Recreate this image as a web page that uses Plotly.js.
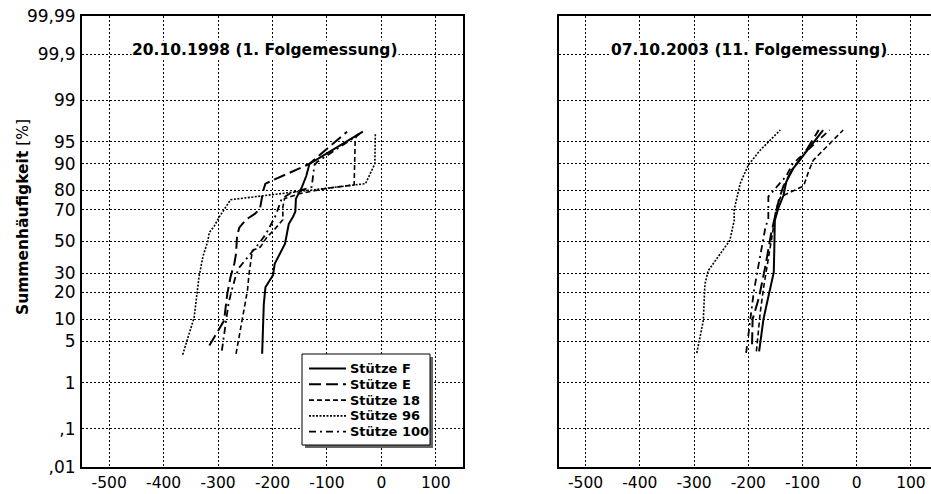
<!DOCTYPE html>
<html>
<head>
<meta charset="utf-8">
<script src="https://cdn.plot.ly/plotly-3.0.1.min.js"></script>
<style>html,body{margin:0;padding:0;background:#fff;}#chart{width:931px;height:494px;}</style>
</head>
<body>
<div id="chart"></div>
<script>
// ---------- data (x = value, p = cumulative frequency in %) ----------
const seriesNames = ["Stütze F", "Stütze E", "Stütze 18", "Stütze 96", "Stütze 100"];

// left panel: 20.10.1998 (1. Folgemessung)
const leftF_x   = [-219,-216,-213,-206,-199,-196,-186,-177,-172,-170,-162,-158,-157,-146,-138,-132,-34];
const leftF_p   = [3.2,15,22.5,26,29,35.6,42,48.5,58,61.5,66,69,76,81.5,86,90,96.5];
const leftE_x   = [-316,-289,-283,-277,-270,-267,-265,-261,-249,-232,-223,-217,-213,-164,-132,-63];
const leftE_p   = [4.3,9.6,19.5,28,36,42,54,59,64,67.7,70.6,80,83,87.4,90,96.5];
const left18_x  = [-267,-258,-252,-246,-243,-237,-222,-210,-196,-185,-181,-181,-178,-150,-100,-50,-48,-42];
const left18_p  = [3.2,7.8,14,21,30,44,46.5,53,58,62,64,71.5,76,78.5,81,82.5,95.5,96.3];
const left96_x  = [-365,-344,-335,-328,-319,-316,-307,-298,-277,-29,-12,-11];
const left96_p  = [3.1,10.5,28,40,50,56,60,65.6,75.5,83,90,96.3];
const left100_x = [-293,-285,-281,-276,-268,-262,-245,-232,-222,-212,-204,-195,-183,-165,-128,-123,-118,-40];
const left100_p = [3.6,10,15,20,28,33,40,45,50,55,60,66,76,79,81.5,89.6,90.5,96.2];

// right panel: 07.10.2003 (11. Folgemessung)
const rightF_x   = [-180,-172,-165,-160,-153,-152,-151,-145,-135,-130,-117,-98,-62];
const rightF_p   = [3.5,10,16,21,30.5,45,63.6,70.6,77.7,83.7,88.6,92.3,96.7];
const rightE_x   = [-193,-192,-180,-168,-158,-150,-143,-135,-120,-100,-70];
const rightE_p   = [4.5,10,18,35,55,68,76,82,88,92,96.7];
const right18_x  = [-185,-178,-172,-166,-160,-155,-150,-145,-140,-98,-88,-80,-25];
const right18_p  = [3.5,12,22,32,44,56,68,74,77,82,88,91,96.7];
const right96_x  = [-295,-283,-280,-274,-234,-226,-226,-221,-215,-200,-178,-141];
const right96_p  = [3.3,9.5,24,31.5,50.7,63.6,70,77,83,89.6,93.4,96.7];
const right100_x = [-204,-200,-195,-190,-185,-175,-168,-163,-163,-150,-130,-118,-50];
const right100_p = [3.3,6,12,20,28,46,60,64,77,81,86,90,96.7];

// axis ticks
const yTickPct   = [0.01,0.1,1,5,10,20,30,50,70,80,90,95,99,99.9,99.99];
const yTickText  = [",01",",1","1","5","10","20","30","50","70","80","90","95","99","99,9","99,99"];
const xTickVals  = [-500,-400,-300,-200,-100,0,100];
const xTickText  = ["-500","-400","-300","-200","-100","0","100"];
const titles     = ["20.10.1998 (1. Folgemessung)", "07.10.2003 (11. Folgemessung)"];
const yTitle     = "Summenhäufigkeit";

// ---------- normal probability scale (probit) ----------
function probit(p){
  const a=[-3.969683028665376e+01,2.209460984245205e+02,-2.759285104469687e+02,1.383577518672690e+02,-3.066479806614716e+01,2.506628277459239e+00];
  const b=[-5.447609879822406e+01,1.615858368580409e+02,-1.556989798598866e+02,6.680131188771972e+01,-1.328068155288572e+01];
  const c=[-7.784894002430293e-03,-3.223964580411365e-01,-2.400758277161838e+00,-2.549671010243277e+00,4.374664141464968e+00,2.938163982698783e+00];
  const d=[7.784695709041462e-03,3.224671290700398e-01,2.445134137142996e+00,3.754408661907416e+00];
  const pl=0.02425, ph=1-pl; let q,r;
  if(p<pl){q=Math.sqrt(-2*Math.log(p));return (((((c[0]*q+c[1])*q+c[2])*q+c[3])*q+c[4])*q+c[5])/((((d[0]*q+d[1])*q+d[2])*q+d[3])*q+1);}
  if(p<=ph){q=p-0.5;r=q*q;return (((((a[0]*r+a[1])*r+a[2])*r+a[3])*r+a[4])*r+a[5])*q/(((((b[0]*r+b[1])*r+b[2])*r+b[3])*r+b[4])*r+1);}
  q=Math.sqrt(-2*Math.log(1-p));return -(((((c[0]*q+c[1])*q+c[2])*q+c[3])*q+c[4])*q+c[5])/((((d[0]*q+d[1])*q+d[2])*q+d[3])*q+1);
}
const z = arr => arr.map(v => probit(v/100));

const styles = [
  {color:"#000", width:2,   dash:"solid"},
  {color:"#000", width:2,   dash:"12px,5px"},
  {color:"#000", width:1.6, dash:"5px,3px"},
  {color:"#000", width:1.6, dash:"2px,1.5px"},
  {color:"#000", width:1.8, dash:"7px,4px,2px,4px"}
];

const leftData  = [[leftF_x,leftF_p],[leftE_x,leftE_p],[left18_x,left18_p],[left96_x,left96_p],[left100_x,left100_p]];
const rightData = [[rightF_x,rightF_p],[rightE_x,rightE_p],[right18_x,right18_p],[right96_x,right96_p],[right100_x,right100_p]];

const traces = [];
leftData.forEach((s,i)=>traces.push({type:"scatter",mode:"lines",x:s[0],y:z(s[1]),name:seriesNames[i],
  line:styles[i],xaxis:"x",yaxis:"y",showlegend:false,hoverinfo:"skip"}));
rightData.forEach((s,i)=>traces.push({type:"scatter",mode:"lines",x:s[0],y:z(s[1]),name:seriesNames[i],
  line:styles[i],xaxis:"x2",yaxis:"y2",showlegend:false,hoverinfo:"skip"}));

const F = "DejaVu Sans";
const yMin = probit(0.0001), yMax = probit(0.9999);
const yTickVals = yTickPct.map(v=>probit(v/100));

const gridCommon = {showgrid:true,gridcolor:"#000",gridwidth:1,griddash:"2px,2px",zeroline:false,
  showline:true,linecolor:"#000",linewidth:2,ticks:"",fixedrange:true};

const W=931,H=494,L=82,R=0,T=16,B=27;
const pw=W-L-R, ph=H-T-B;
const px2x = px => (px-L)/pw, py2y = py => (H-B-py)/ph;

// ---------- legend box (drawn with shapes + annotations) ----------
const legBox = {x0:302,x1:430,y0:354,y1:445};
const legRows = [368.5,384.3,400.1,415.9,431.7];
const shapes = [
  {type:"rect",xref:"paper",yref:"paper",x0:px2x(legBox.x0+3),x1:px2x(legBox.x1+3),y0:py2y(legBox.y1+3),y1:py2y(legBox.y0+3),
    fillcolor:"#666",line:{width:0},layer:"above"},
  {type:"rect",xref:"paper",yref:"paper",x0:px2x(legBox.x0),x1:px2x(legBox.x1),y0:py2y(legBox.y1),y1:py2y(legBox.y0),
    fillcolor:"#fff",line:{color:"#000",width:1},layer:"above"}
];
const annotations = [
  {xref:"x",yref:"y",x:-214,y:3.16,text:"<b>"+titles[0]+"</b>",showarrow:false,bgcolor:"#fff",
    font:{family:F,size:15.5},borderpad:0},
  {xref:"x2",yref:"y2",x:-199,y:3.16,text:"<b>"+titles[1]+"</b>",showarrow:false,bgcolor:"#fff",
    font:{family:F,size:15.5},borderpad:0},
  {xref:"paper",yref:"paper",x:px2x(23),y:py2y(217),xanchor:"center",yanchor:"middle",
    text:"<b>"+yTitle+"</b> [%]",showarrow:false,textangle:-90,font:{family:F,size:15.5}}
];
seriesNames.forEach((n,i)=>{
  shapes.push({type:"line",xref:"paper",yref:"paper",x0:px2x(309),x1:px2x(346),y0:py2y(legRows[i]),y1:py2y(legRows[i]),
    line:{color:"#000",width:styles[i].width,dash:styles[i].dash},layer:"above"});
  annotations.push({xref:"paper",yref:"paper",x:px2x(349),y:py2y(legRows[i]),xanchor:"left",yanchor:"middle",
    text:"<b>"+n+"</b>",showarrow:false,font:{family:F,size:13},borderpad:0});
});

const layout = {
  width:W,height:H,margin:{l:L,r:R,t:T,b:B},paper_bgcolor:"#fff",plot_bgcolor:"#fff",
  font:{family:F,color:"#000"},showlegend:false,
  xaxis:Object.assign({},gridCommon,{domain:[0,px2x(463)],range:[-550,150],mirror:true,
    tickmode:"array",tickvals:xTickVals,ticktext:xTickText,tickfont:{family:F,size:15.5},ticklabelstandoff:0}),
  yaxis:Object.assign({},gridCommon,{range:[yMin,yMax],mirror:true,
    tickmode:"array",tickvals:yTickVals,ticktext:yTickText,tickfont:{family:F,size:17},ticklabelstandoff:1}),
  xaxis2:Object.assign({},gridCommon,{domain:[px2x(558.5),1],range:[-550,137],mirror:true,anchor:"y2",
    tickmode:"array",tickvals:xTickVals,ticktext:xTickText,tickfont:{family:F,size:15.5},ticklabelstandoff:0}),
  yaxis2:Object.assign({},gridCommon,{range:[yMin,yMax],mirror:false,anchor:"x2",
    tickmode:"array",tickvals:yTickVals,showticklabels:false}),
  shapes:shapes,
  annotations:annotations
};

Plotly.newPlot("chart",traces,layout,{staticPlot:true,displayModeBar:false});
</script>
</body>
</html>
